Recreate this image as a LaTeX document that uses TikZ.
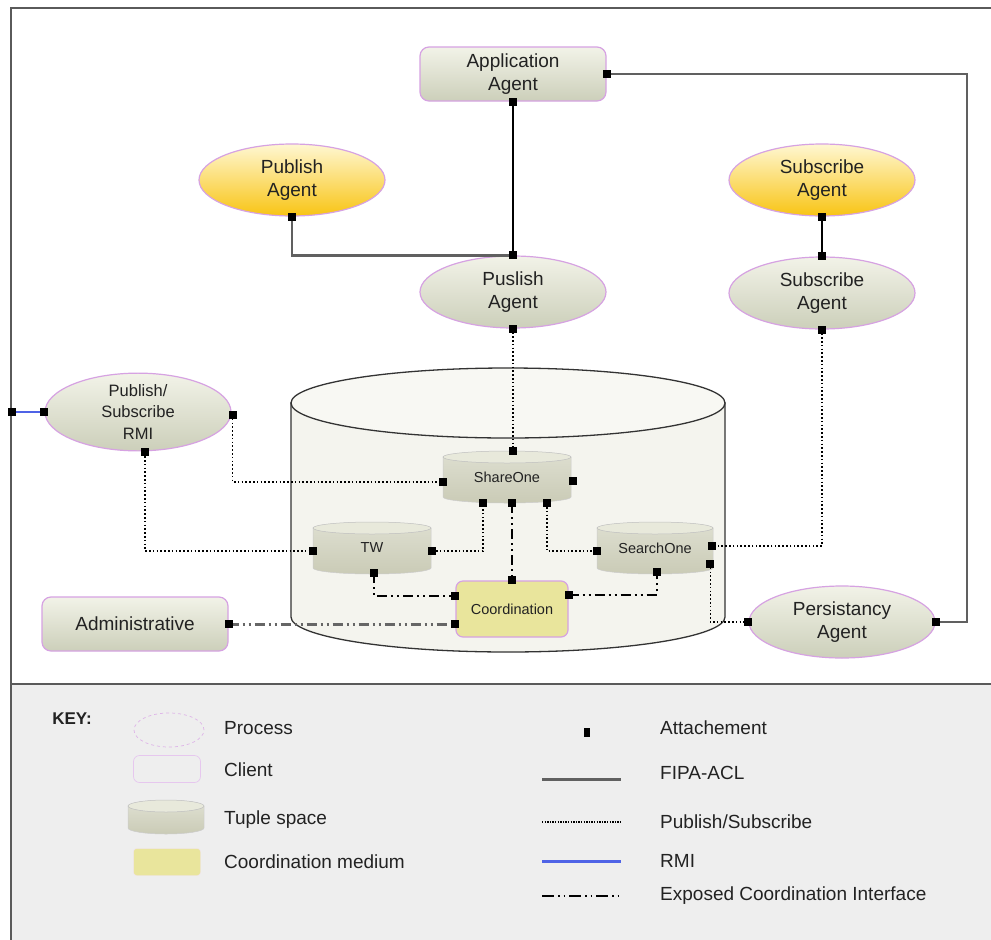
\documentclass[tikz,border=0pt]{standalone}
\usepackage{fontspec}
\setmainfont{Liberation Sans}
\usetikzlibrary{calc,shapes.geometric}

\definecolor{txt}{HTML}{222222}
\definecolor{pinkb}{HTML}{D6A2E2}
\definecolor{gtop}{HTML}{F2F3E8}
\definecolor{gbot}{HTML}{CCCFBA}
\definecolor{ytop}{HTML}{FFF7D2}
\definecolor{ybot}{HTML}{F8C414}
\definecolor{coordfill}{HTML}{E9E59C}
\definecolor{cyltop}{HTML}{F8F8F3}
\definecolor{cylbody}{HTML}{F4F4EE}
\definecolor{tsbodytop}{HTML}{DCDDCE}
\definecolor{tsbodybot}{HTML}{CACBB6}
\definecolor{tscapc}{HTML}{E8E9DB}
\definecolor{framegray}{HTML}{5A5A5A}
\definecolor{fipagray}{HTML}{606060}
\definecolor{panel}{HTML}{EEEEEE}
\definecolor{rmiblue}{HTML}{4F63E6}

\tikzset{
  every node/.style={font=\fontsize{19}{23}\selectfont, text=txt, align=center, inner sep=0pt},
  client/.style={draw=pinkb, line width=1.2pt, rounded corners=9pt,
    top color=gtop, bottom color=gbot, minimum width=186, minimum height=54},
  process/.style={ellipse, draw=pinkb, line width=1.2pt,
    top color=gtop, bottom color=gbot, minimum width=186, minimum height=72},
  yprocess/.style={process, top color=ytop, bottom color=ybot},
  coordbox/.style={draw=pinkb, line width=1.2pt, rounded corners=7pt, fill=coordfill,
    minimum width=112, minimum height=56, font=\fontsize{14.5}{17}\selectfont},
  tslabel/.style={font=\fontsize{14.5}{17}\selectfont},
  tsbody/.style={top color=tsbodytop, bottom color=tsbodybot, draw=white!80!black, line width=0.5pt},
  tscap/.style={fill=tscapc, draw=white!75!black, line width=0.5pt},
  bigcyl/.style={fill=cylbody, draw=black!80, line width=1.3pt},
  bigcyltop/.style={fill=cyltop, draw=black!80, line width=1.3pt},
  fipa/.style={draw=fipagray, line width=2.6pt},
  fipathin/.style={draw=black, line width=1.4pt},
  pubsub/.style={draw=black, line width=1.4pt, dash pattern=on 1.6pt off 2.2pt},
  rmi/.style={draw=rmiblue, line width=1.6pt},
  ecidash/.style={draw=black, line width=1.5pt,
    dash pattern=on 10pt off 4pt on 2pt off 4pt on 2pt off 4pt},
  ecigray/.style={ecidash, draw=black!60, line width=3pt},
}

% attachment point: small black square centred on a coordinate
\newcommand\att[1]{\fill[black] #1 ++(-4,-4) rectangle ++(8,8);}

% tuple space: small cylinder with a named node over it
% #1 name, #2 centre x, #3 centre y, #4 half width, #5 half height, #6 label
\newcommand\tuplespace[6]{%
  \path[tsbody] ({#2-#4},{#3-#5+6}) -- ({#2-#4},{#3+#5-6})
    .. controls ({#2-#4},{#3+#5-2.7}) and ({#2-0.5523*#4},{#3+#5}) .. ({#2},{#3+#5})
    .. controls ({#2+0.5523*#4},{#3+#5}) and ({#2+#4},{#3+#5-2.7}) .. ({#2+#4},{#3+#5-6})
    -- ({#2+#4},{#3-#5+6}) -- cycle;
  \path[tscap] (#2,{#3-#5+6}) ellipse [x radius=#4, y radius=6];
  \node[tslabel, minimum width={2*#4}, minimum height={2*#5}] (#1) at (#2,#3) {#6};
}

\begin{document}
\begin{tikzpicture}[x=1pt, y=-1pt]
\useasboundingbox (0,0) rectangle (991,940);
\begin{scope}
\clip (0,0) rectangle (991,940);

% frame and key panel
\fill[white] (0,0) rectangle (991,940);
\fill[panel] (11,684) rectangle (1000,950);
\draw[framegray, line width=2pt] (1000,8) -- (11,8) -- (11,950);
\draw[framegray, line width=2.6pt] (11,684) -- (1000,684);

% big tuple-space container
\path[bigcyl] (291,403) -- (291,617)
  .. controls (291,636.3) and (388.2,652) .. (508,652)
  .. controls (627.8,652) and (725,636.3) .. (725,617) -- (725,403) -- cycle;
\path[bigcyltop] (508,403) ellipse [x radius=217, y radius=35];

% agents and clients
\node[client] (app) at (513,74) {Application\\Agent};
\node[yprocess] (pubY) at (292,180) {Publish\\Agent};
\node[yprocess] (subY) at (822,180) {Subscribe\\Agent};
\node[process] (pubG) at (513,292) {Puslish\\Agent};
\node[process] (subG) at (822,293) {Subscribe\\Agent};
\node[process, font=\fontsize{16.5}{21.5}\selectfont] (rmi) at (138,412) {Publish/\\Subscribe\\RMI};
\node[client] (admin) at (135,624) {Administrative};
\node[process] (pers) at (842,622) {Persistancy\\Agent};

% tuple spaces and coordination medium
\tuplespace{share}{507}{477}{64}{26}{ShareOne}
\tuplespace{tw}{372}{548}{59}{26}{TW}
\tuplespace{search}{655}{548}{58}{26}{SearchOne}
\node[coordbox] (coord) at (512,609) {Coordination};

% ports
\coordinate (rt) at (967,74);
\coordinate (framePort) at (12,412);
\coordinate (shareN) at (pubG.south |- share.north);
\coordinate (shareW) at ($(share.west)+(0,5)$);
\coordinate (shareE) at ($(share.east)+(2,4)$);
\coordinate (shareB1) at ($(share.south)+(-24,0)$);
\coordinate (shareB2) at ($(share.south)+(5,0)$);
\coordinate (shareB3) at ($(share.south)+(40,0)$);
\coordinate (rmiE) at ($(rmi.east)+(1,3)$);
\coordinate (rmiS) at ($(rmi.south)+(7,1)$);
\coordinate (twW) at ($(tw.west)+(0,3)$);
\coordinate (twE) at ($(tw.east)+(1,3)$);
\coordinate (twS) at ($(tw.south)+(2,-1)$);
\coordinate (searchW) at ($(search.west)+(0,3)$);
\coordinate (searchE1) at ($(search.east)+(-1,-2)$);
\coordinate (searchE2) at ($(search.east)+(-3,16)$);
\coordinate (searchS) at ($(search.south)+(2,-2)$);
\coordinate (coordN) at (shareB2 |- coord.north);
\coordinate (coordW1) at ($(coord.west)+(0,-13)$);
\coordinate (coordW2) at ($(coord.west)+(0,15)$);
\coordinate (coordE) at ($(coord.east)+(0,-14)$);

% FIPA-ACL links
\draw[fipa] (app.east) -- (rt) |- (pers.east);
\draw[fipathin] (app.south) -- (pubG.north);
\draw[fipa] (pubY.south) |- (pubG.north);
\draw[fipathin] (subY.south) -- (subG.north);

% RMI link
\draw[rmi] (framePort) -- (rmi.west);

% publish/subscribe links
\draw[pubsub] (pubG.south) -- (shareN);
\draw[pubsub] (subG.south) |- (searchE1);
\draw[pubsub] (rmiE) |- (shareW);
\draw[pubsub] (rmiS) |- (twW);
\draw[pubsub] (twE) -| (shareB1);
\draw[pubsub] (shareB3) |- (searchW);
\draw[pubsub] (searchE2) |- (pers.west);

% exposed coordination interface
\draw[ecidash] (shareB2) -- (coordN);
\draw[ecidash] (twS) |- (coordW1);
\draw[ecidash] (coordE) -| (searchS);
\draw[ecigray] (admin.east) -- (coordW2);

% attachments
\att{(app.east)} \att{(app.south)}
\att{(pubY.south)} \att{(pubG.north)} \att{(pubG.south)}
\att{(subY.south)} \att{(subG.north)} \att{(subG.south)}
\att{(rmi.west)} \att{(framePort)} \att{(rmiE)} \att{(rmiS)}
\att{(shareN)} \att{(shareW)} \att{(shareE)}
\att{(shareB1)} \att{(shareB2)} \att{(shareB3)}
\att{(twW)} \att{(twE)} \att{(twS)}
\att{(searchW)} \att{(searchE1)} \att{(searchE2)} \att{(searchS)}
\att{(coordN)} \att{(coordW1)} \att{(coordW2)} \att{(coordE)}
\att{(admin.east)} \att{(pers.west)} \att{(pers.east)}

% key
\node[font=\bfseries\fontsize{17}{20}\selectfont] (keyhd) at (72,719) {KEY:};
\node[ellipse, draw=pinkb!80, line width=0.7pt, dashed, minimum width=70, minimum height=34] (lgproc) at (169,730) {};
\node[draw=pinkb!60, line width=0.7pt, rounded corners=6pt, minimum width=67, minimum height=27] (lgcli) at (167,769) {};
\tuplespace{lgtuple}{166}{817}{38}{17}{}
\node[fill=coordfill, draw=pinkb!30, rounded corners=3pt, minimum width=67, minimum height=27] (lgcoord) at (167,862) {};
\node[anchor=west] (lgt1) at (224,728) {Process};
\node[anchor=west] (lgt2) at (224,770) {Client};
\node[anchor=west] (lgt3) at (224,820) {Tuple space};
\node[anchor=west] (lgt4) at (224,862) {Coordination medium};

\node[fill=black, minimum width=6, minimum height=9] (lgatt) at (587,732) {};
\coordinate (lgA1) at (542,779); \coordinate (lgA2) at (621,779);
\coordinate (lgB1) at (542,822); \coordinate (lgB2) at (621,822);
\coordinate (lgC1) at (542,861); \coordinate (lgC2) at (621,861);
\coordinate (lgD1) at (542,896); \coordinate (lgD2) at (621,896);
\draw[fipa, line width=3pt] (lgA1) -- (lgA2);
\draw[pubsub, line width=1.2pt, dash pattern=on 1.3pt off 1.3pt] (lgB1) -- (lgB2);
\draw[rmi, line width=3pt] (lgC1) -- (lgC2);
\draw[ecidash, dash pattern=on 12pt off 4pt on 1.5pt off 4pt on 1.5pt off 4pt] (lgD1) -- (lgD2);
\node[anchor=west] (lgr1) at (660,728) {Attachement};
\node[anchor=west] (lgr2) at (660,773) {FIPA-ACL};
\node[anchor=west] (lgr3) at (660,822) {Publish/Subscribe};
\node[anchor=west] (lgr4) at (660,861) {RMI};
\node[anchor=west] (lgr5) at (660,896) {Exposed Coordination Interface};
\end{scope}
\end{tikzpicture}
\end{document}
